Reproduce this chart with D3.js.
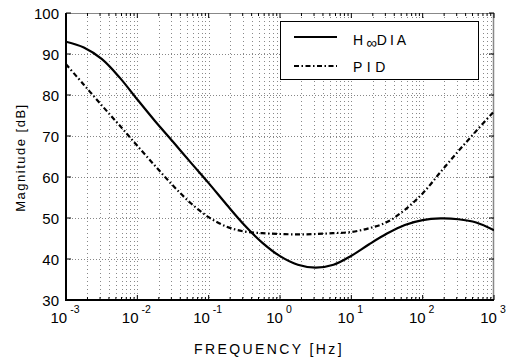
<!DOCTYPE html>
<html>
<head>
<meta charset="utf-8">
<script src="https://cdn.jsdelivr.net/npm/d3@7"></script>
<style>
  html, body { margin: 0; padding: 0; background: #fff; }
  svg { display: block; font-family: "Liberation Sans", Arial, Helvetica, sans-serif; }
</style>
</head>
<body>
<div id="chart"></div>
<script>
// Bode magnitude: H-infinity DIA vs PID
// frequencies at quarter-decade steps, 1e-3 .. 1e3 Hz
const logFreq = [-3, -2.75, -2.5, -2.25, -2, -1.75, -1.5, -1.25, -1, -0.75, -0.5, -0.25,
  0, 0.25, 0.5, 0.75, 1, 1.25, 1.5, 1.75, 2, 2.25, 2.5, 2.75, 3];
const hinfMag = [93.0, 91.6, 88.8, 84.3, 78.9, 73.6, 68.6, 63.5, 58.5, 53.3, 48.3, 44.0,
  40.7, 38.6, 37.9, 38.6, 40.8, 43.6, 46.2, 48.3, 49.5, 49.9, 49.7, 48.9, 47.0];
const pidMag = [87.5, 82.5, 77.5, 72.6, 67.6, 62.7, 57.9, 53.6, 50.2, 47.9, 46.7, 46.3,
  46.1, 46.0, 46.1, 46.3, 46.6, 47.5, 49.0, 52.0, 56.0, 61.2, 66.3, 71.2, 76.0];
const xTickExp = [-3, -2, -1, 0, 1, 2, 3];
const yTicks = [30, 40, 50, 60, 70, 80, 90, 100];
const legendLabels = ['H∞DIA', 'PID'];

const W = 512, H = 358;
const M = { left: 66, right: 18, top: 13, bottom: 58 };
const x0 = M.left, x1 = W - M.right, y0 = M.top, y1 = H - M.bottom;

const svg = d3.select('#chart').append('svg')
  .attr('width', W).attr('height', H);

const x = d3.scaleLog().domain([1e-3, 1e3]).range([x0, x1]);
const y = d3.scaleLinear().domain([30, 100]).range([y1, y0]);

/* ── grid ── */
const minor = [];
xTickExp.slice(0, -1).forEach(e => { for (let k = 2; k <= 9; k++) minor.push(k * Math.pow(10, e)); });
const grid = svg.append('g').attr('stroke', '#555').attr('stroke-width', 0.7)
  .attr('stroke-dasharray', '1,3');
grid.selectAll('.gx').data(minor.concat(xTickExp.slice(1, -1).map(e => Math.pow(10, e))))
  .join('line')
  .attr('x1', d => Math.round(x(d)) + 0.5).attr('x2', d => Math.round(x(d)) + 0.5)
  .attr('y1', y0).attr('y2', y1);
grid.selectAll('.gy').data(yTicks.slice(1, -1)).join('line')
  .attr('x1', x0).attr('x2', x1)
  .attr('y1', d => Math.round(y(d)) + 0.5).attr('y2', d => Math.round(y(d)) + 0.5)
  .attr('stroke-dasharray', '1,2');

/* ── frame ── */
svg.append('line').attr('x1', x0).attr('x2', x1).attr('y1', y0 + 0.5).attr('y2', y0 + 0.5)
  .attr('stroke', '#888').attr('stroke-width', 1);
svg.append('line').attr('x1', x1 - 0.5).attr('x2', x1 - 0.5).attr('y1', y0).attr('y2', y1)
  .attr('stroke', '#888').attr('stroke-width', 1.5);

// ticks on all four sides
const tk = svg.append('g').attr('stroke', '#000').attr('stroke-width', 1);
xTickExp.forEach(e => {
  const px = x(Math.pow(10, e));
  tk.append('line').attr('x1', px).attr('x2', px).attr('y1', y1).attr('y2', y1 - 5);
  tk.append('line').attr('x1', px).attr('x2', px).attr('y1', y0).attr('y2', y0 + 5);
});
minor.forEach(d => {
  const px = x(d);
  tk.append('line').attr('x1', px).attr('x2', px).attr('y1', y1).attr('y2', y1 - 3);
  tk.append('line').attr('x1', px).attr('x2', px).attr('y1', y0).attr('y2', y0 + 3);
});
yTicks.forEach(v => {
  tk.append('line').attr('x1', x0).attr('x2', x0 + 5).attr('y1', y(v)).attr('y2', y(v));
  tk.append('line').attr('x1', x1).attr('x2', x1 - 5).attr('y1', y(v)).attr('y2', y(v));
});

svg.append('line').attr('x1', x0).attr('x2', x0).attr('y1', y0).attr('y2', y1 + 1)
  .attr('stroke', '#000').attr('stroke-width', 2);
svg.append('line').attr('x1', x0 - 1).attr('x2', x1).attr('y1', y1).attr('y2', y1)
  .attr('stroke', '#000').attr('stroke-width', 2);

/* ── tick labels ── */
svg.selectAll('.yl').data(yTicks).join('text')
  .attr('x', x0 - 7).attr('y', d => y(d) + 5.5)
  .attr('text-anchor', 'end').attr('font-size', 15).attr('fill', '#000')
  .text(d => d);

const xl = svg.selectAll('.xl').data(xTickExp).join('text')
  .attr('x', d => x(Math.pow(10, d)) - 1).attr('y', y1 + 23)
  .attr('text-anchor', 'middle').attr('font-size', 15).attr('fill', '#000');
xl.append('tspan').text('10');
xl.append('tspan').attr('dy', -10).attr('dx', 3).attr('font-size', 10.5).text(d => d);

/* ── axis titles ── */
svg.append('text').attr('x', 269).attr('y', 354).attr('text-anchor', 'middle')
  .attr('font-size', 14).attr('letter-spacing', 2.4).text('FREQUENCY [Hz]');
svg.append('text').attr('transform', `translate(25,${(y0 + y1) / 2 + 1}) rotate(-90)`)
  .attr('text-anchor', 'middle').attr('font-size', 13).attr('letter-spacing', 1.5)
  .text('Magnitude [dB]');

/* ── curves ── */
svg.append('clipPath').attr('id', 'clip').append('rect')
  .attr('x', x0).attr('y', y0).attr('width', x1 - x0).attr('height', y1 - y0);
const line = d3.line().curve(d3.curveCatmullRom.alpha(0.5))
  .x((d, i) => x(Math.pow(10, logFreq[i]))).y(d => y(d));
const curves = svg.append('g').attr('clip-path', 'url(#clip)');
curves.append('path').attr('d', line(hinfMag)).attr('fill', 'none')
  .attr('stroke', '#000').attr('stroke-width', 2.2);
curves.append('path').attr('d', line(pidMag)).attr('fill', 'none')
  .attr('stroke', '#000').attr('stroke-width', 2.2)
  .attr('stroke-dasharray', '5,2.5,1.5,2.5');

/* ── legend ── */
const lg = svg.append('g');
lg.append('rect').attr('x', 280.5).attr('y', 21.5).attr('width', 198).attr('height', 58)
  .attr('fill', '#fff').attr('stroke', '#000').attr('stroke-width', 1);
lg.append('line').attr('x1', 294).attr('x2', 337).attr('y1', 37).attr('y2', 37)
  .attr('stroke', '#000').attr('stroke-width', 2.2);
lg.append('line').attr('x1', 294).attr('x2', 337).attr('y1', 66).attr('y2', 66)
  .attr('stroke', '#000').attr('stroke-width', 2.2).attr('stroke-dasharray', '5,2.5,1.5,2.5');
const t1 = lg.append('text').attr('x', 353).attr('y', 45).attr('font-size', 14)
  .attr('letter-spacing', 3);
t1.append('tspan').text(legendLabels[0].slice(0, 1));
t1.append('tspan').attr('dy', 3).attr('font-size', 15).attr('letter-spacing', 0).text('∞');
t1.append('tspan').attr('dy', -3).text(legendLabels[0].slice(2));
lg.append('text').attr('x', 353).attr('y', 72).attr('font-size', 14)
  .attr('letter-spacing', 4.5).text(legendLabels[1]);
</script>
</body>
</html>
